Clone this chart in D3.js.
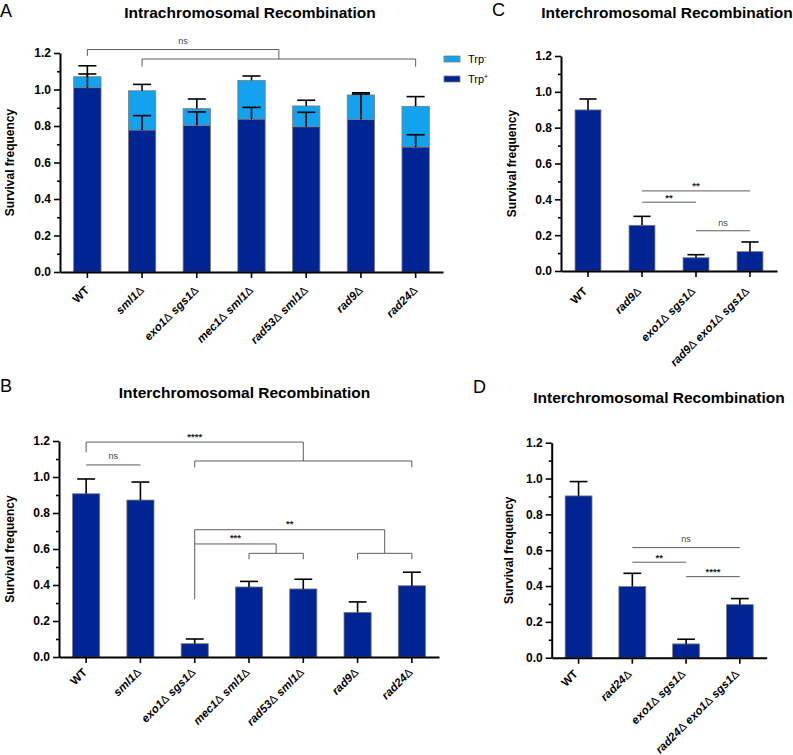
<!DOCTYPE html>
<html><head><meta charset="utf-8">
<script src="https://cdn.jsdelivr.net/npm/d3@7"></script>
<style>
body{margin:0;background:#fff}
svg{display:block}
text{font-family:"Liberation Sans",Arial,Helvetica,sans-serif}
</style>
</head><body>
<svg id="c" width="793" height="755"></svg>
<script>
// ---------------- DATA ----------------
const yTicks = [0, 0.2, 0.4, 0.6, 0.8, 1.0, 1.2];
const yMinorTicks = [0.1, 0.3, 0.5, 0.7, 0.9, 1.1];

const titleA = "Intrachromosomal Recombination";
const catsA = ["WT", "sml1Δ", "exo1Δ sgs1Δ", "mec1Δ sml1Δ", "rad53Δ sml1Δ", "rad9Δ", "rad24Δ"];
const trpPlusA = [1.01, 0.778, 0.804, 0.838, 0.796, 0.835, 0.685];
const trpMinusA = [0.06, 0.215, 0.091, 0.212, 0.114, 0.135, 0.223];
const trpPlusErrA = [0.075, 0.079, 0.073, 0.064, 0.079, 0.14, 0.067];
const totalErrA = [0.06, 0.035, 0.053, 0.024, 0.031, 0.012, 0.053];
const legendKeysA = ["minus", "plus"];
const legendSupA = ["-", "+"];

const titleB = "Interchromosomal Recombination";
const catsB = ["WT", "sml1Δ", "exo1Δ sgs1Δ", "mec1Δ sml1Δ", "rad53Δ sml1Δ", "rad9Δ", "rad24Δ"];
const valuesB = [0.907, 0.872, 0.074, 0.389, 0.378, 0.248, 0.396];
const errB = [0.082, 0.1, 0.026, 0.031, 0.054, 0.058, 0.075];

const titleC = "Interchromosomal Recombination";
const catsC = ["WT", "rad9Δ", "exo1Δ sgs1Δ", "rad9Δ exo1Δ sgs1Δ"];
const valuesC = [0.899, 0.255, 0.074, 0.108];
const errC = [0.061, 0.05, 0.017, 0.054];

const titleD = "Interchromosomal Recombination";
const catsD = ["WT", "rad24Δ", "exo1Δ sgs1Δ", "rad24Δ exo1Δ sgs1Δ"];
const valuesD = [0.903, 0.397, 0.077, 0.296];
const errD = [0.08, 0.074, 0.026, 0.034];

// significance annotations (category indices, levels in data units)
const groupSigA = [
  {label: "ns", left: 0, right: [1, 6], top: 1.219, leftEnd: 1.184, groupY: 1.167, tickEnd: 1.125, labelY: 1.25}
];
const lineSigA = [];
const groupSigB = [
  {label: "****", left: 0, right: [2, 6], top: 1.194, leftEnd: 1.137, groupY: 1.089, tickEnd: 1.054, labelY: 1.208},
  {label: "**", left: 2, right: [5, 6], top: 0.707, leftEnd: 0.321, groupY: 0.576, tickEnd: 0.543, labelY: 0.722},
  {label: "***", left: 2, right: [3, 4], top: 0.628, leftEnd: 0.628, groupY: 0.576, tickEnd: 0.543, labelY: 0.643}
];
const lineSigB = [
  {label: "ns", a: 0, b: 1, y: 1.067, labelY: 1.1}
];
const lineSigC = [
  {label: "**", a: 1, b: 3, y: 0.447, labelY: 0.458},
  {label: "**", a: 1, b: 2, y: 0.384, labelY: 0.391},
  {label: "ns", a: 2, b: 3, y: 0.2245, labelY: 0.252}
];
const lineSigD = [
  {label: "ns", a: 1, b: 3, y: 0.6145, labelY: 0.648},
  {label: "**", a: 1, b: 2, y: 0.533, labelY: 0.541},
  {label: "****", a: 2, b: 3, y: 0.4525, labelY: 0.463}
];

// ---------------- STYLE ----------------
const DARK = "#002492";
const LIGHT = "#12A2EE";
const OUTLINE = "#7d7d7d";
const BRK = "#5c5c5c";

const svg = d3.select("#c");

function labelTokens(sel, name) {
  if (name === "WT") { sel.append("tspan").attr("font-weight", "bold").text("WT"); return; }
  const parts = name.split("Δ");
  parts.forEach((p, i) => {
    if (p.length) sel.append("tspan").attr("font-weight", "bold").attr("font-style", "italic").text(p);
    if (i < parts.length - 1) sel.append("tspan").attr("font-weight", "normal").attr("font-style", "normal").text("Δ");
  });
}

function panel(cfg) {
  const g = svg.append("g");
  const x = d3.scaleBand().domain(cfg.cats).range(cfg.xr).paddingInner(cfg.pad).paddingOuter(cfg.pad / 2);
  const y = d3.scaleLinear().domain([0, 1.2]).range(cfg.yr);
  const bw = x.bandwidth();
  const cx = i => x(cfg.cats[i]) + bw / 2;

  // letter & title
  g.append("text").attr("x", cfg.letterPos[0]).attr("y", cfg.letterPos[1])
    .attr("font-size", 18).text(cfg.letter);
  g.append("text").attr("x", cfg.titlePos[0]).attr("y", cfg.titlePos[1])
    .attr("text-anchor", "middle").attr("font-size", 15.5).attr("font-weight", "bold").text(cfg.title);

  // bars
  if (cfg.stack) {
    const rows = cfg.cats.map((c, i) => ({cat: c, plus: cfg.plus[i], minus: cfg.minus[i]}));
    const series = d3.stack().keys(["plus", "minus"])(rows);
    const col = {plus: DARK, minus: LIGHT};
    series.forEach(s => {
      g.selectAll(null).data(s).join("rect")
        .attr("x", d => x(d.data.cat)).attr("width", bw)
        .attr("y", d => y(d[1])).attr("height", d => y(d[0]) - y(d[1]))
        .attr("fill", col[s.key]).attr("stroke", OUTLINE).attr("stroke-width", 0.8);
    });
    // error bars: total then Trp+
    const errs = [];
    rows.forEach((r, i) => {
      errs.push({i, v: r.plus + r.minus, e: cfg.totalErr[i]});
      errs.push({i, v: r.plus, e: cfg.plusErr[i]});
    });
    drawErr(g, errs, cx, y, bw);
  } else {
    g.selectAll(null).data(cfg.values).join("rect")
      .attr("x", (d, i) => x(cfg.cats[i])).attr("width", bw)
      .attr("y", d => y(d)).attr("height", d => y(0) - y(d))
      .attr("fill", DARK).attr("stroke", OUTLINE).attr("stroke-width", 0.8);
    drawErr(g, cfg.values.map((v, i) => ({i, v, e: cfg.err[i]})), cx, y, bw);
  }

  // axes
  const yAx = g.append("g").attr("transform", `translate(${cfg.xr[0]},0)`)
    .call(d3.axisLeft(y).tickValues(yTicks).tickSize(6).tickSizeOuter(0).tickPadding(3).tickFormat(d3.format(".1f")));
  const yMin = g.append("g").attr("transform", `translate(${cfg.xr[0]},0)`)
    .call(d3.axisLeft(y).tickValues(yMinorTicks).tickSize(3).tickSizeOuter(0).tickFormat(""));
  yMin.select(".domain").remove();
  [yAx, yMin].forEach(a => {
    a.selectAll("line").attr("stroke", "#000").attr("stroke-width", 1.6);
    a.select(".domain").attr("stroke", "#000").attr("stroke-width", 2);
  });
  yAx.selectAll("text").attr("font-size", 12).attr("font-weight", "bold").attr("fill", "#000")
    .attr("font-family", "Liberation Sans, Arial, sans-serif");

  const xAx = g.append("g").attr("transform", `translate(0,${y(0)})`)
    .call(d3.axisBottom(x).tickSize(6).tickSizeOuter(0).tickFormat(""));
  xAx.select(".domain").attr("stroke", "#000").attr("stroke-width", 2);
  xAx.selectAll("line").attr("stroke", "#000").attr("stroke-width", 1.6);

  // x labels
  cfg.cats.forEach((c, i) => {
    const t = g.append("text")
      .attr("transform", `translate(${cx(i) + cfg.lab[0]},${y(0) + cfg.lab[1]}) rotate(-45)`)
      .attr("text-anchor", "end").attr("font-size", 11.5).attr("fill", "#000");
    labelTokens(t, c);
  });

  // y label
  g.append("text")
    .attr("transform", `translate(${cfg.yLabX},${(cfg.yr[0] + cfg.yr[1]) / 2}) rotate(-90)`)
    .attr("text-anchor", "middle").attr("font-size", 12).attr("font-weight", "bold").text("Survival frequency");

  // significance
  const line = (x1, y1, x2, y2) => g.append("line").attr("x1", x1).attr("y1", y1).attr("x2", x2).attr("y2", y2)
    .attr("stroke", BRK).attr("stroke-width", 1);
  const sigText = (label, xx, yy) => g.append("text").attr("x", xx).attr("y", yy).attr("text-anchor", "middle")
    .attr("font-size", label === "ns" ? 9 : 9.5).attr("font-weight", label === "ns" ? "normal" : "bold")
    .attr("fill", label === "ns" ? "#444" : "#222").text(label);
  (cfg.groupSig || []).forEach(s => {
    const lx = cx(s.left);
    const r1 = cx(s.right[0]), r2 = cx(s.right[1]);
    const mid = (r1 + r2) / 2;
    line(lx, y(s.top), mid, y(s.top));
    if (s.leftEnd !== s.top) line(lx, y(s.top), lx, y(s.leftEnd));
    line(mid, y(s.top), mid, y(s.groupY));
    line(r1, y(s.groupY), r2, y(s.groupY));
    line(r1, y(s.groupY), r1, y(s.tickEnd));
    line(r2, y(s.groupY), r2, y(s.tickEnd));
    sigText(s.label, (lx + mid) / 2, y(s.labelY));
  });
  (cfg.lineSig || []).forEach(s => {
    line(cx(s.a), y(s.y), cx(s.b), y(s.y));
    sigText(s.label, (cx(s.a) + cx(s.b)) / 2, y(s.labelY));
  });
  return {g, x, y};
}

function drawErr(g, errs, cx, y, bw) {
  const cw = bw * 0.66;
  errs.forEach(d => {
    g.append("line").attr("x1", cx(d.i)).attr("x2", cx(d.i)).attr("y1", y(d.v)).attr("y2", y(d.v + d.e))
      .attr("stroke", "#000").attr("stroke-width", 1.6);
    g.append("line").attr("x1", cx(d.i) - cw / 2).attr("x2", cx(d.i) + cw / 2).attr("y1", y(d.v + d.e)).attr("y2", y(d.v + d.e))
      .attr("stroke", "#000").attr("stroke-width", 1.6);
  });
}

// ---------------- PANELS ----------------
const pA = panel({letter: "A", letterPos: [0, 17], title: titleA, titlePos: [250, 18],
  cats: catsA, xr: [60, 443], yr: [272, 53], pad: 0.5, stack: true,
  plus: trpPlusA, minus: trpMinusA, plusErr: trpPlusErrA, totalErr: totalErrA,
  lab: [2.5, 19], yLabX: 14, groupSig: groupSigA, lineSig: lineSigA});

// legend A
const legCol = {minus: LIGHT, plus: DARK};
legendKeysA.forEach((k, i) => {
  const ly = 56 + i * 20;
  pA.g.append("rect").attr("x", 444).attr("y", ly).attr("width", 16).attr("height", 6)
    .attr("fill", legCol[k]).attr("stroke", OUTLINE).attr("stroke-width", 0.8);
  const t = pA.g.append("text").attr("x", 468).attr("y", ly + 7).attr("font-size", 11).text("Trp");
  t.append("tspan").attr("dy", -4).attr("font-size", 7).text(legendSupA[i]);
});

panel({letter: "B", letterPos: [0, 392], title: titleB, titlePos: [244.5, 398],
  cats: catsB, xr: [59, 439], yr: [657, 441], pad: 0.5, values: valuesB, err: errB,
  lab: [1.5, 16], yLabX: 14, groupSig: groupSigB, lineSig: lineSigB});

panel({letter: "C", letterPos: [492, 16], title: titleC, titlePos: [667, 18],
  cats: catsC, xr: [561, 777], yr: [271, 56], pad: 0.52, values: valuesC, err: errC,
  lab: [0, 21], yLabX: 516, lineSig: lineSigC});

panel({letter: "D", letterPos: [473, 393], title: titleD, titlePos: [659, 403],
  cats: catsD, xr: [551.7, 766.7], yr: [657.7, 442.7], pad: 0.5, values: valuesD, err: errD,
  lab: [0, 17], yLabX: 513, lineSig: lineSigD});
</script>
</body></html>
